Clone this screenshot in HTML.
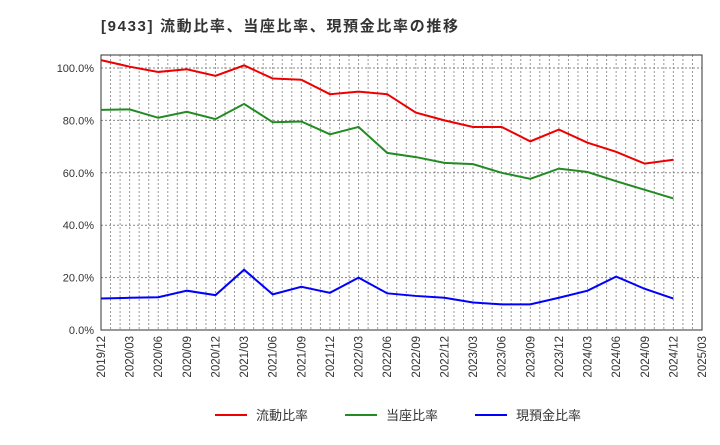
<!DOCTYPE html>
<html><head><meta charset="utf-8"><style>
body{margin:0;background:#fff;font-family:"Liberation Sans","Noto Sans CJK JP",sans-serif}
</style></head><body>
<svg id="c" width="720" height="440" xmlns="http://www.w3.org/2000/svg">
<text x="101" y="31" font-size="15" font-weight="bold" fill="#333" textLength="357" lengthAdjust="spacing" font-family="Liberation Sans,Noto Sans CJK JP,sans-serif">[9433]  流動比率、当座比率、現預金比率の推移</text>
<g id="grid"></g><g id="axes"></g><g id="series"></g>
<g font-size="13" font-family="Liberation Sans,Noto Sans CJK JP,sans-serif" fill="#333">
<line x1="215" y1="415" x2="247" y2="415" stroke="#e00" stroke-width="2"/><text x="256" y="420">流動比率</text>
<line x1="345" y1="415" x2="377" y2="415" stroke="#228B22" stroke-width="2"/><text x="386" y="420">当座比率</text>
<line x1="475" y1="415" x2="507" y2="415" stroke="#00f" stroke-width="2"/><text x="516" y="420">現預金比率</text>
</g>
</svg>
<script>
const categories=["2019/12","2020/03","2020/06","2020/09","2020/12","2021/03","2021/06","2021/09","2021/12","2022/03","2022/06","2022/09","2022/12","2023/03","2023/06","2023/09","2023/12","2024/03","2024/06","2024/09","2024/12","2025/03"];
const currentRatio=[103,100.5,98.5,99.5,97,101,96,95.5,90,91,90,83,80,77.5,77.5,72,76.5,71.5,68,63.5,65];
const quickRatio=[84,84.2,81,83.3,80.5,86.3,79.3,79.6,74.7,77.5,67.6,66,63.8,63.3,60,57.7,61.6,60.3,56.8,53.5,50.2];
const cashRatio=[12,12.3,12.5,15,13.3,23,13.6,16.5,14.2,20,14,13,12.3,10.5,9.8,9.8,12.3,15,20.4,15.7,12];
const yTicks=[0,20,40,60,80,100];
const NS="http://www.w3.org/2000/svg";
const L=101,R=702,T=55,B=330;
const xs=i=>L+(R-L)*i/(categories.length-1);
const ys=v=>B-(B-68)*v/100;
function mk(tag,attrs,parent){const e=document.createElementNS(NS,tag);for(const k in attrs)e.setAttribute(k,attrs[k]);parent.appendChild(e);return e;}
const grid=document.getElementById('grid'),axes=document.getElementById('axes'),series=document.getElementById('series');
for(let m=1;m<(categories.length-1)*3;m++){const x=L+(R-L)*m/((categories.length-1)*3);
const g=mk('line',{x1:x,x2:x,y1:T,y2:B,stroke:'#999','stroke-dasharray':'2,2','stroke-width':1},grid);
}
yTicks.forEach(v=>{const y=ys(v);
const g=mk('line',{x1:L,x2:R,y1:y,y2:y,stroke:'#888','stroke-dasharray':'2,2','stroke-width':1},grid);

const t=mk('text',{x:L-7,y:y+4,'text-anchor':'end','font-size':11,fill:'#333'},axes);t.textContent=v.toFixed(1)+'%';
});
categories.forEach((c,i)=>{const x=xs(i);
const t=mk('text',{transform:`translate(${x+4},${B+6}) rotate(-90)`,'text-anchor':'end','font-size':11.5,fill:'#333'},axes);t.textContent=c;
});
const fr=mk('rect',{x:L,y:T,width:R-L,height:B-T,fill:'none',stroke:'#333','stroke-width':1},axes);

[[currentRatio,'#e00','current-ratio-line'],[quickRatio,'#228B22','quick-ratio-line'],[cashRatio,'#00f','cash-ratio-line']].forEach(([d,col,n])=>{
const p=mk('polyline',{points:d.map((v,i)=>xs(i)+','+ys(v)).join(' '),fill:'none',stroke:col,'stroke-width':2},series);
});
</script>
</body></html>
